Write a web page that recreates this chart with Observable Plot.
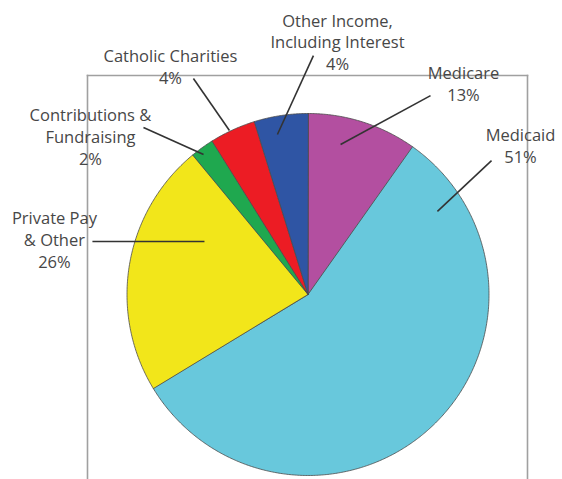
<!DOCTYPE html>
<html><head><meta charset="utf-8">
<script src="https://cdn.jsdelivr.net/npm/d3@7"></script>
<script src="https://cdn.jsdelivr.net/npm/@observablehq/plot@0.6"></script>
<style>
html,body{margin:0;padding:0;background:#fff;}
#chart svg{display:block;}
</style>
</head><body><div id="chart"></div>
<script>
// Slices, clockwise from 12 o'clock
const categories = ["Medicare", "Medicaid", "Private Pay & Other", "Contributions & Fundraising", "Catholic Charities", "Other Income, Including Interest"];
// slice sizes as drawn in the picture (percent of circle)
const shares = [9.8, 56.5, 22.7, 2.1, 4.1, 4.8];
// percentages printed in the labels
const labelPct = ["13%", "51%", "26%", "2%", "4%", "4%"];
const labelNames = ["Medicare", "Medicaid", "Private Pay\n& Other", "Contributions &\nFundraising", "Catholic Charities", "Other Income,\nIncluding Interest"];
const colors = ["#b34fa0", "#68c8dc", "#f2e61a", "#1fa84f", "#ec1c24", "#2f55a4"];

// label placement in pie-radius units (layout, not data)
const labelX = [0.859, 1.174, -1.401, -1.202, -0.760, 0.163];
const labelY = [1.169, 0.826, 0.309, 0.878, 1.265, 1.398];
const leadX1 = [0.677, 1.014, -1.191, -0.909, -0.633, 0.030];
const leadY1 = [1.099, 0.740, 0.293, 0.923, 1.193, 1.320];
const leadX2 = [0.180, 0.715, -0.572, -0.577, -0.434, -0.169];
const leadY2 = [0.829, 0.459, 0.293, 0.773, 0.906, 0.884];

// build slice outlines from the shares
const total = d3.sum(shares);
const slices = [];
let acc = 0;
categories.forEach((c, i) => {
  const a0 = acc / total * 2 * Math.PI;
  acc += shares[i];
  const a1 = acc / total * 2 * Math.PI;
  slices.push({category: c, u: 0, v: 0});
  const n = Math.max(2, Math.ceil((a1 - a0) / (Math.PI / 360)));
  for (let k = 0; k <= n; k++) {
    const a = a0 + (a1 - a0) * k / n;
    slices.push({category: c, u: Math.sin(a), v: Math.cos(a)});
  }
});

const labels = categories.map((c, i) => ({
  category: c,
  text: labelNames[i] + "\n" + labelPct[i],
  x: labelX[i], y: labelY[i],
  x1: leadX1[i], y1: leadY1[i], x2: leadX2[i], y2: leadY2[i]
}));

const R = 181, cx = 307.5, cy = 294;
const W = 562, H = 479;
const mL = 87, mR = 35, mT = 75, mB = 0;

const chart = Plot.plot({
  width: W, height: H,
  marginLeft: mL, marginRight: mR, marginTop: mT, marginBottom: mB,
  x: {domain: [(mL - cx) / R, (W - mR - cx) / R], axis: null},
  y: {domain: [(cy - (H - mB)) / R, (cy - mT) / R], axis: null},
  color: {domain: categories, range: colors},
  style: {fontFamily: "'Open Sans', sans-serif", background: "#fff", overflow: "visible"},
  marks: [
    Plot.frame({anchor: "left", stroke: "#a0a0a0", strokeWidth: 1.6}),
    Plot.frame({anchor: "top", stroke: "#a0a0a0", strokeWidth: 1.6}),
    Plot.frame({anchor: "right", stroke: "#a0a0a0", strokeWidth: 1.6}),
    Plot.line(slices, {x: "u", y: "v", z: "category", fill: "category", stroke: "#4a4a4a", strokeWidth: 0.8, curve: "linear-closed"}),
    Plot.link(labels, {x1: "x1", y1: "y1", x2: "x2", y2: "y2", stroke: "#333", strokeWidth: 1.6}),
    Plot.text(labels, {x: "x", y: "y", text: "text", lineAnchor: "middle", lineHeight: 1.33, fontSize: 16.5, fill: "#474747", textAnchor: "middle"})
  ]
});
document.getElementById("chart").appendChild(chart);
</script>
</body></html>
